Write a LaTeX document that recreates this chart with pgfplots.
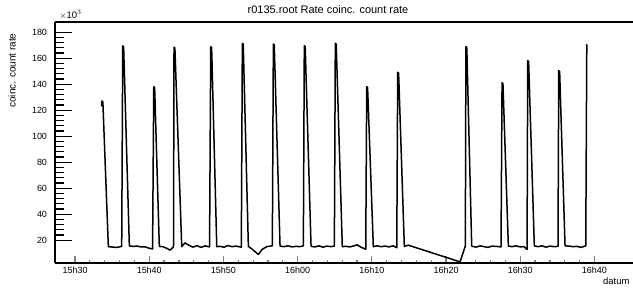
\documentclass[border=0pt]{standalone}
\usepackage{pgfplots}
\pgfplotsset{compat=1.18}
\usepackage{fontspec}
\setmainfont{Liberation Sans}
\begin{document}
\begin{tikzpicture}[x=1bp,y=1bp]
\useasboundingbox (-55,-25) rectangle (578,263);
\pgfplotsset{common/.style={
  at={(0,0)}, anchor=south west,
  scale only axis, width=578bp, height=241bp,
  xmin=27.30, xmax=105.2, ymin=2.4, ymax=187.9,
  xtick pos=bottom, ytick pos=left, tick align=inside,
  minor x tick num=4, minor y tick num=4,
  clip=false,
}}
% y ticks (long)
\begin{axis}[common,
  hide x axis,
  y axis line style={draw=none},
  ytick={20,40,60,80,100,120,140,160,180},
  yticklabels={},
  tickwidth=17bp, subtickwidth=8.5bp,
  ytick style={line width=1.2bp, black},
]
\end{axis}
% main axis with x ticks
\begin{axis}[common,
  axis x line=box, axis y line=left,
  x axis line style={-, line width=1.5bp}, y axis line style={-, line width=1.5bp},
  xtick={30,40,50,60,70,80,90,100},
  xticklabels={15h30,15h40,15h50,16h00,16h10,16h20,16h30,16h40},
  ytick={20,40,60,80,100,120,140,160,180},
  tickwidth=7bp, subtickwidth=3.5bp,
  xtick style={line width=1.2bp},
  ytick style={draw=none},
  /pgf/number format/assume math mode=true,
  ticklabel style={font=\fontsize{9}{10}\selectfont},
  yticklabel style={xshift=-1bp},
]
\addplot[black, line width=1.5bp, line join=round] coordinates {
(33.58,123) (33.62,127) (33.75,126.5) (34.49,15.0)
(35.12,14.6) (35.66,14.4) (36.29,15.2)
(36.43,169.5) (36.55,168.8) (37.32,15.6)
(37.82,15.2) (38.36,15.4) (38.89,14.8) (39.43,14.9) (39.97,13.8) (40.45,13.2)
(40.61,138.1) (40.73,137.4) (41.36,15.2)
(41.86,14.9) (42.40,13.6) (42.80,12.3) (43.27,14.8)
(43.34,168.5) (43.46,167.8) (44.38,15.0)
(44.82,17.9) (45.36,16.0) (45.90,14.6) (46.44,15.8) (46.98,14.4) (47.52,15.6) (48.13,14.8)
(48.29,168.9) (48.41,168.2) (49.10,15.0)
(49.54,15.2) (50.08,14.6) (50.62,15.8) (51.16,15.0) (51.70,15.4) (52.41,14.6)
(52.55,171.5) (52.67,170.8) (53.36,15.2)
(53.99,12.5) (54.70,9.0) (55.20,12.8) (55.84,15.0) (56.28,15.4) (56.59,15.6)
(56.73,171.0) (56.85,170.3) (57.63,15.4)
(58.17,15.0) (58.71,15.6) (59.25,14.8) (59.78,15.2) (60.32,15.0) (60.77,15.6)
(60.90,169.7) (61.02,169.0) (61.81,15.2)
(62.35,14.8) (62.89,15.6) (63.42,14.6) (63.96,15.4) (64.50,15.0) (64.95,15.4)
(65.08,171.5) (65.20,170.8) (66.02,15.0)
(66.52,15.2) (67.06,14.8) (67.60,15.6) (68.00,16.4) (68.54,14.6) (69.18,13.0)
(69.31,138.1) (69.43,137.4) (70.20,15.0)
(70.70,15.6) (71.24,15.0) (71.78,15.4) (72.32,14.8) (72.86,15.6) (73.36,14.2)
(73.49,149.2) (73.61,148.5) (74.38,15.2)
(74.92,16.1)
(81.89,3.3)
(82.60,15.5)
(82.68,168.9) (82.80,168.2) (83.46,15.4)
(84.04,14.6) (84.58,15.6) (85.12,15.0) (85.66,14.4) (86.20,15.4) (86.74,15.2) (87.41,14.8)
(87.55,141.2) (87.67,140.5) (88.40,15.4)
(88.90,15.0) (89.43,15.6) (89.97,14.8) (90.51,15.0) (90.92,12.8)
(91.01,158.2) (91.13,157.5) (91.90,15.6)
(92.40,15.0) (92.94,15.6) (93.48,14.6) (94.02,15.4) (94.56,15.0) (95.09,15.2)
(95.19,150.5) (95.31,149.8) (96.04,15.6)
(96.58,15.4) (97.12,15.0) (97.66,15.2) (98.20,14.4) (98.83,15.6)
(98.97,170.2) (98.88,170.6)
};
\end{axis}
\node[font=\fontsize{11}{13}\selectfont] at (273,253) {r0135.root Rate coinc. count rate};
\node[font=\fontsize{9.5}{11}\selectfont, anchor=west] at (1,248) {$\times$10$^{3}$};
\node[font=\fontsize{10}{12}\selectfont, anchor=east, rotate=90] at (-43,233) {coinc. count rate};
\node[font=\fontsize{9.5}{11}\selectfont, anchor=east] at (578,-18) {datum};
\end{tikzpicture}
\end{document}
